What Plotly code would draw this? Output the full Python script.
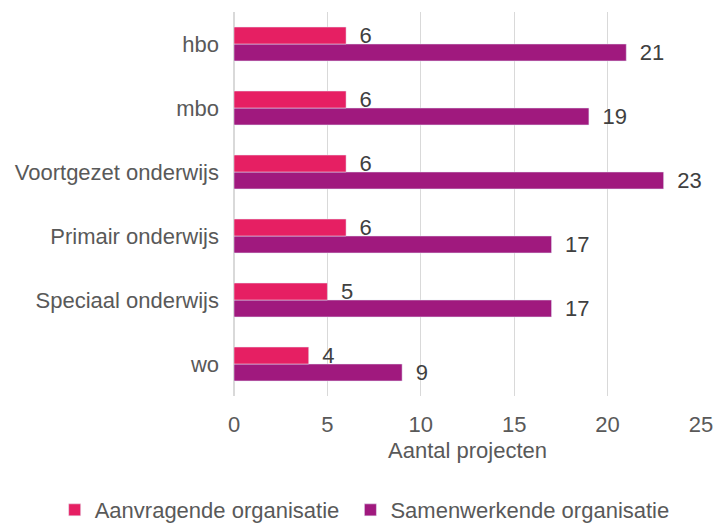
import plotly.graph_objects as go

categories = ["hbo", "mbo", "Voortgezet onderwijs", "Primair onderwijs", "Speciaal onderwijs", "wo"]
aanvragende = [6, 6, 6, 6, 5, 4]
samenwerkende = [21, 19, 23, 17, 17, 9]
x_ticks = [0, 5, 10, 15, 20, 25]

cats_rev = categories[::-1]
a_rev = aanvragende[::-1]
s_rev = samenwerkende[::-1]

FS = 22
fig = go.Figure()
fig.add_trace(go.Bar(
    y=cats_rev, x=s_rev, orientation="h", name="Samenwerkende organisatie",
    marker=dict(color="#A0197E"), text=s_rev, texttemplate=" \u2009%{x}", textposition="outside",
    textfont=dict(color="#404040", size=FS), cliponaxis=False, constraintext="none",
))
fig.add_trace(go.Bar(
    y=cats_rev, x=a_rev, orientation="h", name="Aanvragende organisatie\u00a0",
    marker=dict(color="#E61F63"), text=a_rev, texttemplate=" \u2009%{x}", textposition="outside",
    textfont=dict(color="#404040", size=FS), cliponaxis=False, constraintext="none",
))

fig.update_layout(
    width=715, height=524,
    barmode="group", bargap=0.47, bargroupgap=0,
    margin=dict(l=234, r=14, t=12, b=128, autoexpand=False),
    plot_bgcolor="white", paper_bgcolor="white",
    font=dict(family="Liberation Sans, Arial, sans-serif", size=FS, color="#595959"),
    uniformtext=dict(minsize=FS, mode="show"),
    xaxis=dict(
        range=[0, 25], tickvals=x_ticks, showgrid=True, gridcolor="#D9D9D9", gridwidth=1,
        zeroline=True, zerolinecolor="#D9D9D9", ticks="", ticklabelstandoff=13,
        title=dict(text="Aantal projecten", standoff=6, font=dict(size=FS)),
        tickfont=dict(size=FS),
    ),
    yaxis=dict(showgrid=False, ticks="", ticklabelstandoff=14, tickfont=dict(size=FS)),
    legend=dict(
        orientation="h", x=-0.384, xanchor="left",
        y=-0.297, yanchor="middle",
        traceorder="reversed", font=dict(size=FS), itemwidth=30,
    ),
    showlegend=True,
)

fig.write_html("out.html", post_script="document.body.style.margin='0';",
               config={"displayModeBar": False})
